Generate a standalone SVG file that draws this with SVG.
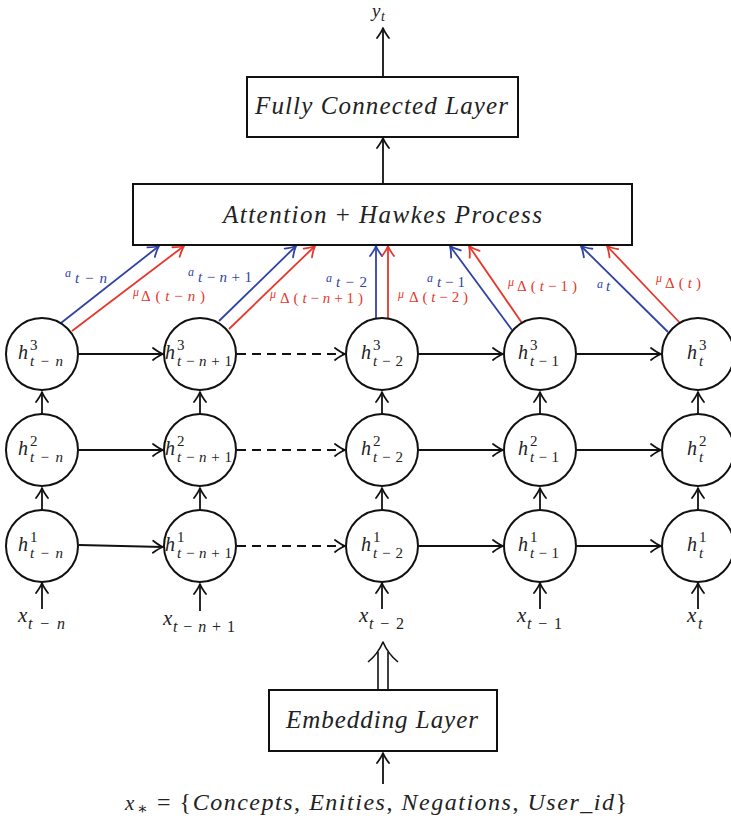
<svg xmlns="http://www.w3.org/2000/svg" width="731" height="822" viewBox="0 0 731 822">
  <defs>
    <marker id="arr" markerUnits="userSpaceOnUse" markerWidth="16" markerHeight="16" viewBox="-12 -8 16 16" refX="0" refY="0" orient="auto">
      <path d="M -10 -6 Q -4 -1.5 0 0 Q -4 1.5 -10 6" fill="none" stroke="#111" stroke-width="1.8" stroke-linecap="round" stroke-linejoin="round"/>
    </marker>
    <marker id="arrB" markerUnits="userSpaceOnUse" markerWidth="16" markerHeight="16" viewBox="-12 -8 16 16" refX="0" refY="0" orient="auto">
      <path d="M -10 -6 Q -4 -1.5 0 0 Q -4 1.5 -10 6" fill="none" stroke="#3142a6" stroke-width="1.8" stroke-linecap="round" stroke-linejoin="round"/>
    </marker>
    <marker id="arrR" markerUnits="userSpaceOnUse" markerWidth="16" markerHeight="16" viewBox="-12 -8 16 16" refX="0" refY="0" orient="auto">
      <path d="M -10 -6 Q -4 -1.5 0 0 Q -4 1.5 -10 6" fill="none" stroke="#e6372c" stroke-width="1.8" stroke-linecap="round" stroke-linejoin="round"/>
    </marker>
  </defs>
  <style>
    .box { fill: #fff; stroke: #111; stroke-width: 2; }
    .cell { fill: #fff; stroke: #111; stroke-width: 2; }
    .ln { fill: none; stroke: #111; stroke-width: 1.8; marker-end: url(#arr); }
    .dash { stroke-dasharray: 9 6; }
    .bl { fill: none; stroke: #3142a6; stroke-width: 1.8; marker-end: url(#arrB); }
    .rd { fill: none; stroke: #e6372c; stroke-width: 1.8; marker-end: url(#arrR); }
    text { font-family: "Liberation Serif", "DejaVu Serif", serif; font-style: italic; fill: #222; }
    .up { font-style: normal; }
    .h { font-size: 20px; }
    .s { font-size: 15px; }
    .x { font-size: 21px; }
    .xs { font-size: 16px; }
    .lbl { font-size: 25px; }
    .bot { font-size: 24px; }
    .cb { fill: #3142a6; }
    .cr { fill: #e6372c; }
    .ca { font-size: 12px; }
    .cs { font-size: 15px; }
  </style>

  <!-- connectors -->
  <g id="connectors">
    <!-- output -->
    <line class="ln" x1="383" y1="76" x2="383" y2="28"/>
    <line class="ln" x1="383" y1="183" x2="383" y2="138"/>
    <!-- embedding input -->
    <line class="ln" x1="383" y1="784" x2="383" y2="753"/>
    <!-- embedding output (double arrow) -->
    <g fill="none" stroke="#111" stroke-width="1.6">
      <line x1="378" y1="690" x2="378" y2="652"/>
      <line x1="388" y1="690" x2="388" y2="652"/>
      <path d="M 368 662 Q 378 654 383 642 Q 388 654 398 662" stroke-linejoin="round"/>
    </g>

    <!-- inputs to layer 1 -->
    <line class="ln" x1="42" y1="609" x2="42" y2="583"/>
    <line class="ln" x1="200" y1="611" x2="200" y2="584"/>
    <line class="ln" x1="382" y1="609" x2="382" y2="583"/>
    <line class="ln" x1="540" y1="609" x2="540" y2="583"/>
    <line class="ln" x1="698" y1="609" x2="698" y2="583"/>

    <!-- layer 1 to 2 -->
    <line class="ln" x1="42" y1="510" x2="42" y2="488"/>
    <line class="ln" x1="200" y1="510" x2="200" y2="488"/>
    <line class="ln" x1="382" y1="510" x2="382" y2="488"/>
    <line class="ln" x1="540" y1="510" x2="540" y2="488"/>
    <line class="ln" x1="698" y1="510" x2="698" y2="488"/>

    <!-- layer 2 to 3 -->
    <line class="ln" x1="42" y1="414" x2="42" y2="392"/>
    <line class="ln" x1="200" y1="414" x2="200" y2="392"/>
    <line class="ln" x1="382" y1="414" x2="382" y2="392"/>
    <line class="ln" x1="540" y1="414" x2="540" y2="392"/>
    <line class="ln" x1="698" y1="414" x2="698" y2="392"/>

    <!-- recurrent links, layer 3 -->
    <line class="ln" x1="79" y1="354" x2="163" y2="354"/>
    <line class="ln dash" x1="237" y1="354" x2="345" y2="354"/>
    <line class="ln" x1="419" y1="354" x2="503" y2="354"/>
    <line class="ln" x1="577" y1="354" x2="661" y2="354"/>
    <!-- layer 2 -->
    <line class="ln" x1="79" y1="450" x2="163" y2="450"/>
    <line class="ln dash" x1="237" y1="450" x2="345" y2="450"/>
    <line class="ln" x1="419" y1="450" x2="503" y2="450"/>
    <line class="ln" x1="577" y1="450" x2="661" y2="450"/>
    <!-- layer 1 -->
    <line class="ln" x1="79" y1="545" x2="163" y2="547"/>
    <line class="ln dash" x1="237" y1="546" x2="345" y2="546"/>
    <line class="ln" x1="419" y1="546" x2="503" y2="546"/>
    <line class="ln" x1="577" y1="546" x2="661" y2="546"/>

    <!-- attention weights (blue) and Hawkes intensities (red) -->
    <line class="bl" x1="61" y1="323" x2="159" y2="246"/>
    <line class="rd" x1="72" y1="331" x2="184" y2="246"/>
    <line class="bl" x1="219" y1="321" x2="296" y2="246"/>
    <line class="rd" x1="229" y1="329" x2="315" y2="246"/>
    <line class="bl" x1="376" y1="319" x2="376" y2="246"/>
    <line class="rd" x1="388" y1="319" x2="388" y2="246"/>
    <line class="bl" x1="512" y1="330" x2="450" y2="246"/>
    <line class="rd" x1="522" y1="323" x2="469" y2="246"/>
    <line class="bl" x1="668" y1="332" x2="581" y2="246"/>
    <line class="rd" x1="680" y1="323" x2="607" y2="246"/>
  </g>

  <!-- connector labels -->
  <g id="edge-labels">
    <text class="cb ca" x="65" y="277">a</text>
    <text class="cb cs" x="75" y="283" textLength="32" lengthAdjust="spacing">t<tspan class="up">−</tspan>n</text>
    <text class="cr ca" x="133" y="296">μ</text>
    <text class="cr cs" x="141" y="301" textLength="64" lengthAdjust="spacing"><tspan class="up">Δ(</tspan>t<tspan class="up">−</tspan>n<tspan class="up">)</tspan></text>

    <text class="cb ca" x="188" y="276">a</text>
    <text class="cb cs" x="198" y="282" textLength="54" lengthAdjust="spacing">t<tspan class="up">−</tspan>n<tspan class="up">+1</tspan></text>
    <text class="cr ca" x="270" y="298">μ</text>
    <text class="cr cs" x="280" y="303" textLength="83" lengthAdjust="spacing"><tspan class="up">Δ(</tspan>t<tspan class="up">−</tspan>n<tspan class="up">+1)</tspan></text>

    <text class="cb ca" x="326" y="282">a</text>
    <text class="cb cs" x="336" y="287" textLength="31" lengthAdjust="spacing">t<tspan class="up">−2</tspan></text>
    <text class="cr ca" x="398" y="298">μ</text>
    <text class="cr cs" x="409" y="302" textLength="59" lengthAdjust="spacing"><tspan class="up">Δ(</tspan>t<tspan class="up">−2)</tspan></text>

    <text class="cb ca" x="427" y="282">a</text>
    <text class="cb cs" x="437" y="287" textLength="28" lengthAdjust="spacing">t<tspan class="up">−1</tspan></text>
    <text class="cr ca" x="508" y="286">μ</text>
    <text class="cr cs" x="517" y="291" textLength="60" lengthAdjust="spacing"><tspan class="up">Δ(</tspan>t<tspan class="up">−1)</tspan></text>

    <text class="cb ca" x="597" y="288">a</text>
    <text class="cb cs" x="606" y="291">t</text>
    <text class="cr ca" x="656" y="282">μ</text>
    <text class="cr cs" x="665" y="288" textLength="36" lengthAdjust="spacing"><tspan class="up">Δ(</tspan>t<tspan class="up">)</tspan></text>
  </g>

  <!-- output -->
  <g id="output">
    <text class="x" x="372" y="17" style="font-size:19px">y</text>
    <text class="xs" x="381" y="21" style="font-size:14px">t</text>
  </g>

  <g id="fc-layer">
    <rect class="box" x="247" y="77" width="271" height="60"/>
    <text class="lbl" x="255" y="114" textLength="253" lengthAdjust="spacing">Fully Connected Layer</text>
  </g>

  <g id="attention">
    <rect class="box" x="133" y="184" width="499" height="61"/>
    <text class="lbl" x="223" y="223" textLength="319" lengthAdjust="spacing">Attention <tspan class="up">+</tspan> Hawkes Process</text>
  </g>

  <!-- layer 3 -->
  <g id="h3-t-n">
    <circle class="cell" cx="42" cy="354" r="36"/>
    <text class="h" x="18" y="359">h</text>
    <text class="s up" x="30" y="350">3</text>
    <text class="s" x="30" y="366" textLength="33" lengthAdjust="spacing">t<tspan class="up">−</tspan>n</text>
  </g>
  <g id="h3-t-n1">
    <circle class="cell" cx="200" cy="354" r="36"/>
    <text class="h" x="165" y="359">h</text>
    <text class="s up" x="177" y="350">3</text>
    <text class="s" x="177" y="366" textLength="55" lengthAdjust="spacing">t<tspan class="up">−</tspan>n<tspan class="up">+1</tspan></text>
  </g>
  <g id="h3-t-2">
    <circle class="cell" cx="382" cy="354" r="36"/>
    <text class="h" x="361" y="359">h</text>
    <text class="s up" x="373" y="350">3</text>
    <text class="s" x="373" y="366" textLength="30" lengthAdjust="spacing">t<tspan class="up">−2</tspan></text>
  </g>
  <g id="h3-t-1">
    <circle class="cell" cx="540" cy="354" r="36"/>
    <text class="h" x="518" y="359">h</text>
    <text class="s up" x="530" y="350">3</text>
    <text class="s" x="530" y="366" textLength="29" lengthAdjust="spacing">t<tspan class="up">−1</tspan></text>
  </g>
  <g id="h3-t">
    <circle class="cell" cx="698" cy="354" r="36"/>
    <text class="h" x="687" y="359">h</text>
    <text class="s up" x="699" y="350">3</text>
    <text class="s" x="699" y="366">t</text>
  </g>

  <!-- layer 2 -->
  <g id="h2-t-n">
    <circle class="cell" cx="42" cy="450" r="36"/>
    <text class="h" x="18" y="455">h</text>
    <text class="s up" x="30" y="446">2</text>
    <text class="s" x="30" y="462" textLength="33" lengthAdjust="spacing">t<tspan class="up">−</tspan>n</text>
  </g>
  <g id="h2-t-n1">
    <circle class="cell" cx="200" cy="450" r="36"/>
    <text class="h" x="165" y="455">h</text>
    <text class="s up" x="177" y="446">2</text>
    <text class="s" x="177" y="462" textLength="55" lengthAdjust="spacing">t<tspan class="up">−</tspan>n<tspan class="up">+1</tspan></text>
  </g>
  <g id="h2-t-2">
    <circle class="cell" cx="382" cy="450" r="36"/>
    <text class="h" x="361" y="455">h</text>
    <text class="s up" x="373" y="446">2</text>
    <text class="s" x="373" y="462" textLength="30" lengthAdjust="spacing">t<tspan class="up">−2</tspan></text>
  </g>
  <g id="h2-t-1">
    <circle class="cell" cx="540" cy="450" r="36"/>
    <text class="h" x="518" y="455">h</text>
    <text class="s up" x="530" y="446">2</text>
    <text class="s" x="530" y="462" textLength="29" lengthAdjust="spacing">t<tspan class="up">−1</tspan></text>
  </g>
  <g id="h2-t">
    <circle class="cell" cx="698" cy="450" r="36"/>
    <text class="h" x="687" y="455">h</text>
    <text class="s up" x="699" y="446">2</text>
    <text class="s" x="699" y="462">t</text>
  </g>

  <!-- layer 1 -->
  <g id="h1-t-n">
    <circle class="cell" cx="42" cy="546" r="36"/>
    <text class="h" x="18" y="551">h</text>
    <text class="s up" x="30" y="542">1</text>
    <text class="s" x="30" y="558" textLength="33" lengthAdjust="spacing">t<tspan class="up">−</tspan>n</text>
  </g>
  <g id="h1-t-n1">
    <circle class="cell" cx="200" cy="546" r="36"/>
    <text class="h" x="165" y="551">h</text>
    <text class="s up" x="177" y="542">1</text>
    <text class="s" x="177" y="558" textLength="55" lengthAdjust="spacing">t<tspan class="up">−</tspan>n<tspan class="up">+1</tspan></text>
  </g>
  <g id="h1-t-2">
    <circle class="cell" cx="382" cy="546" r="36"/>
    <text class="h" x="361" y="551">h</text>
    <text class="s up" x="373" y="542">1</text>
    <text class="s" x="373" y="558" textLength="30" lengthAdjust="spacing">t<tspan class="up">−2</tspan></text>
  </g>
  <g id="h1-t-1">
    <circle class="cell" cx="540" cy="546" r="36"/>
    <text class="h" x="518" y="551">h</text>
    <text class="s up" x="530" y="542">1</text>
    <text class="s" x="530" y="558" textLength="29" lengthAdjust="spacing">t<tspan class="up">−1</tspan></text>
  </g>
  <g id="h1-t">
    <circle class="cell" cx="698" cy="546" r="36"/>
    <text class="h" x="687" y="551">h</text>
    <text class="s up" x="699" y="542">1</text>
    <text class="s" x="699" y="558">t</text>
  </g>

  <!-- inputs -->
  <g id="x-t-n">
    <text class="x" x="18" y="622">x</text>
    <text class="xs" x="28" y="629" textLength="37" lengthAdjust="spacing">t<tspan class="up">−</tspan>n</text>
  </g>
  <g id="x-t-n1">
    <text class="x" x="163" y="625">x</text>
    <text class="xs" x="173" y="632" textLength="62" lengthAdjust="spacing">t<tspan class="up">−</tspan>n<tspan class="up">+1</tspan></text>
  </g>
  <g id="x-t-2">
    <text class="x" x="359" y="622">x</text>
    <text class="xs" x="369" y="629" textLength="35" lengthAdjust="spacing">t<tspan class="up">−2</tspan></text>
  </g>
  <g id="x-t-1">
    <text class="x" x="517" y="622">x</text>
    <text class="xs" x="527" y="629" textLength="35" lengthAdjust="spacing">t<tspan class="up">−1</tspan></text>
  </g>
  <g id="x-t">
    <text class="x" x="687" y="622">x</text>
    <text class="xs" x="698" y="629">t</text>
  </g>

  <g id="embedding">
    <rect class="box" x="269" y="690" width="228" height="61"/>
    <text class="lbl" x="286" y="728" textLength="192" lengthAdjust="spacing">Embedding Layer</text>
  </g>

  <g id="input-set">
    <text class="x" x="125" y="810">x</text>
    <text class="xs up" x="137" y="814">∗</text>
    <text class="bot" x="157" y="810" textLength="470" lengthAdjust="spacing"><tspan class="up">= {</tspan>Concepts<tspan class="up">, </tspan>Enities<tspan class="up">, </tspan>Negations<tspan class="up">, </tspan>User<tspan class="up">_</tspan>id<tspan class="up">}</tspan></text>
  </g>
</svg>
